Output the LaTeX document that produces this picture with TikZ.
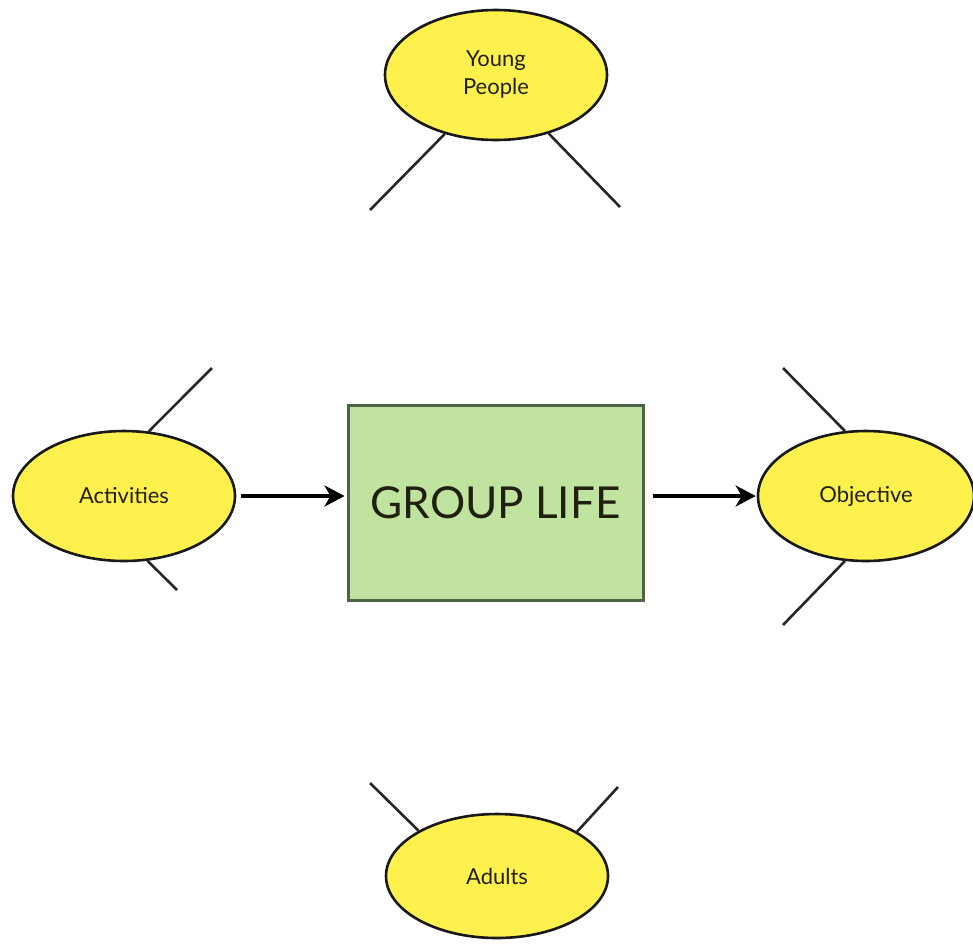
\documentclass[tikz,border=0pt]{standalone}
\usepackage{fontspec}
\setmainfont{Lato}
\usetikzlibrary{shapes.geometric,arrows.meta}
\definecolor{topicfill}{RGB}{255,241,77}
\definecolor{hubfill}{RGB}{192,227,160}
\definecolor{hubline}{RGB}{78,98,70}
\definecolor{inktext}{RGB}{32,32,14}
\tikzset{
  topic/.style={ellipse, draw=black!90, line width=2.6pt, fill=topicfill,
    minimum width=222pt, minimum height=130pt, inner sep=0pt,
    font=\fontsize{22}{28}\selectfont, text=inktext, align=center},
  hub/.style={rectangle, draw=hubline, line width=3pt, fill=hubfill,
    minimum width=295pt, minimum height=195pt, inner sep=0pt,
    font=\fontsize{44}{48}\selectfont, text=inktext},
  stub/.style={line width=2.6pt, draw=black!85},
  flow/.style={line width=3.4pt, -{Stealth[length=20pt,width=21pt,inset=6pt]}}
}
\begin{document}
\begin{tikzpicture}[x=1pt,y=-1pt]
\useasboundingbox (0,0) rectangle (973,948);
\fill[white] (0,0) rectangle (973,948);

% main nodes
\node[hub] (life) at (495.5,502.5) {GROUP LIFE};
\node[topic] (young) at (496,75) {Young\\People};
\node[topic] (acts) at (124,496) {Activities};
\node[topic, minimum width=216pt] (goal) at (866,496) {Objective};
\node[topic, minimum height=124pt] (adults) at (497,876) {Adults};

% free ends of the short stubs
\coordinate (ylt) at (370,210);
\coordinate (yrt) at (620,207);
\coordinate (aup) at (212,368);
\coordinate (adn) at (177,590);
\coordinate (oup) at (783,368);
\coordinate (odn) at (783,625);
\coordinate (dlt) at (370,783);
\coordinate (drt) at (618,787);

% stubs
\draw[stub] (young.229) -- (ylt);
\draw[stub] (young.312) -- (yrt);
\draw[stub] (acts.69) -- (aup);
\draw[stub] (acts.290) -- (adn);
\draw[stub] (goal.108) -- (oup);
\draw[stub] (goal.252) -- (odn);
\draw[stub] (adults.150) -- (dlt);
\draw[stub] (adults.29) -- (drt);

% flow arrows
\draw[flow, shorten <=5pt, shorten >=2pt] (acts.east) -- (acts.east -| life.west);
\draw[flow, shorten <=8pt, shorten >=1pt] (life.east |- goal.west) -- (goal.west);
\end{tikzpicture}
\end{document}
